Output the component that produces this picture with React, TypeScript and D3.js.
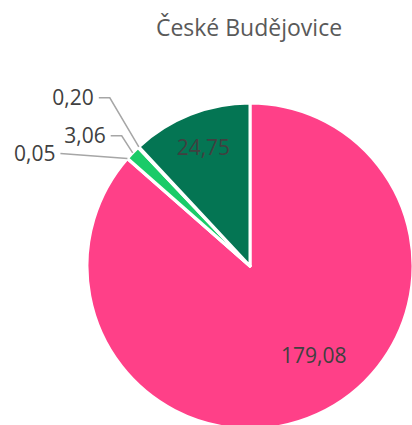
import React from 'react';
import * as d3 from 'd3';

const title = 'České Budějovice';
const categories = ['A', 'B', 'C', 'D', 'E'];
const values = [179.08, 0.05, 3.06, 0.2, 24.75];
const labels = ['179,08', '0,05', '3,06', '0,20', '24,75'];
const colors = ['#FF4088', '#0E9F5C', '#1ACB68', '#0B8A57', '#047553'];

const W = 412;
const H = 425;

const App = () => {
  const cx = 250;
  const cy = 266;
  const R = 163;

  const pie = d3.pie<number>().value(d => d).sort(null);
  const arcs = pie(values);
  const arc = d3.arc<d3.PieArcDatum<number>>().innerRadius(0).outerRadius(R);
  const font = "'Open Sans', sans-serif";

  // outside labels: elbow offset from the slice edge (dx, dy), then horizontal run
  const outside: Record<number, { dx: number; dy: number; run: number; edge: 'start' | 'mid' | 'end' }> = {
    1: { dx: -67, dy: -5, run: 0, edge: 'start' },
    2: { dx: -11, dy: -17, run: 11, edge: 'mid' },
    3: { dx: -29, dy: -49, run: 11, edge: 'end' },
  };
  // inside labels: radius factor and nudge
  const inside: Record<number, { k: number; nx: number; ny: number }> = {
    0: { k: 0.68, nx: 18, ny: -11 },
    4: { k: 0.78, nx: 0, ny: 0 },
  };

  return (
    <svg width={W} height={H} style={{ position: 'absolute', left: 0, top: 0 }}>
      <rect width={W} height={H} fill="#fff" />
      <text x={cx - 1} y={36} textAnchor="middle" fontFamily={font} fontSize={23} fill="#595959">
        {title}
      </text>
      <g transform={`translate(${cx},${cy})`}>
        {arcs.map((a, i) => (
          <path key={categories[i]} d={arc(a) || ''} fill={colors[i]} stroke="#fff" strokeWidth={3} strokeLinejoin="round" />
        ))}
        {arcs.map((a, i) => {
          const ins = inside[i];
          if (!ins) return null;
          const mid = (a.startAngle + a.endAngle) / 2;
          const x = Math.sin(mid) * R * ins.k + ins.nx;
          const y = -Math.cos(mid) * R * ins.k + ins.ny;
          return (
            <text key={'in' + i} x={x} y={y} dy="0.35em" textAnchor="middle" fontFamily={font} fontSize={21} fill="#404040">
              {labels[i]}
            </text>
          );
        })}
        {arcs.map((a, i) => {
          const o = outside[i];
          if (!o) return null;
          const ang = o.edge === 'start' ? a.startAngle : o.edge === 'end' ? a.endAngle : (a.startAngle + a.endAngle) / 2;
          const ax = Math.sin(ang) * R;
          const ay = -Math.cos(ang) * R;
          const ex = ax + o.dx;
          const ey = ay + o.dy;
          const lx = ex - o.run;
          return (
            <g key={'out' + i}>
              <polyline points={`${ax},${ay} ${ex},${ey} ${lx},${ey}`} fill="none" stroke="#A6A6A6" strokeWidth={1.5} />
              <text x={lx - 5} y={ey} dy="0.35em" textAnchor="end" fontFamily={font} fontSize={21} fill="#404040">
                {labels[i]}
              </text>
            </g>
          );
        })}
      </g>
    </svg>
  );
};

export default App;
